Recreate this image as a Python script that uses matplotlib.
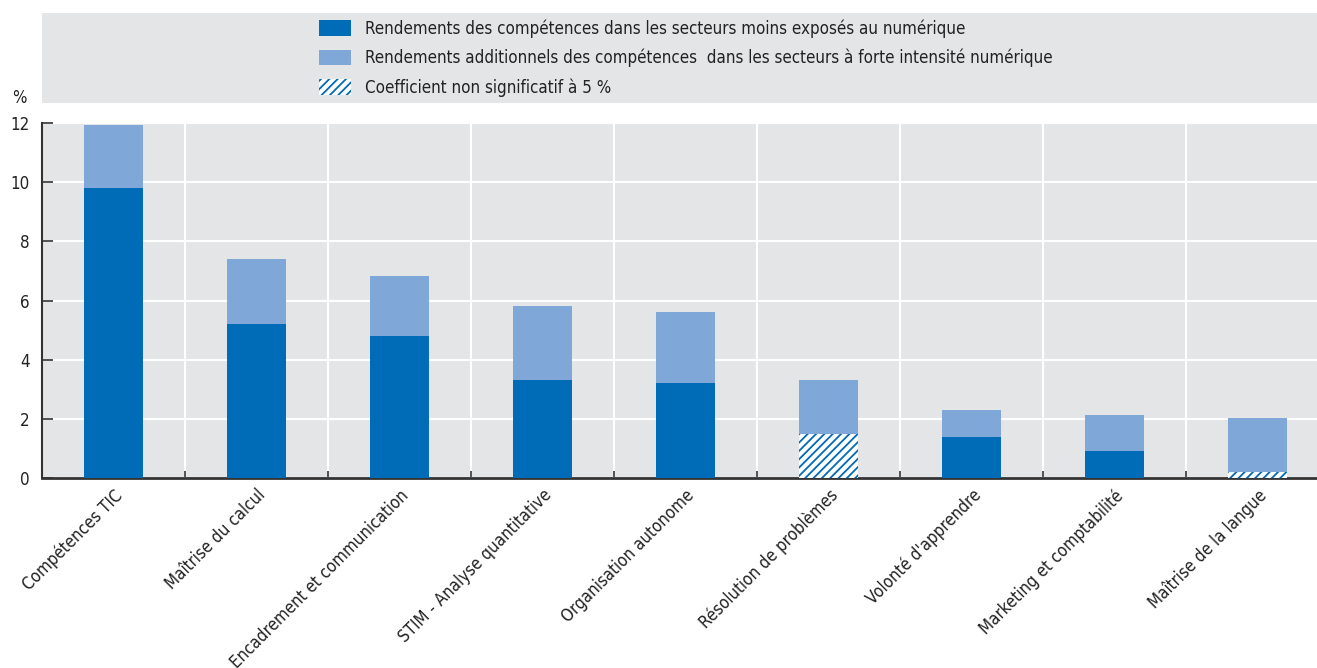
import matplotlib
matplotlib.use('Agg')
import matplotlib.pyplot as plt
from matplotlib.patches import Patch
import numpy as np

plt.rcParams['font.family'] = ['DejaVu Sans']
plt.rcParams['font.stretch'] = 'condensed'
plt.rcParams['hatch.linewidth'] = 1.3

# Données : rendements des compétences (%)
categories = ['Compétences TIC', 'Maîtrise du calcul', 'Encadrement et communication',
              'STIM - Analyse quantitative', 'Organisation autonome', 'Résolution de problèmes',
              "Volonté d'apprendre", 'Marketing et comptabilité', 'Maîtrise de la langue']
base = [9.8, 5.2, 4.8, 3.3, 3.2, 1.5, 1.4, 0.9, 0.2]
additionnel = [2.13, 2.2, 2.03, 2.5, 2.4, 1.8, 0.9, 1.23, 1.83]
base_non_signif = [False, False, False, False, False, True, False, False, True]

legende = ['Rendements des compétences dans les secteurs moins exposés au numérique',
           'Rendements additionnels des compétences  dans les secteurs à forte intensité numérique',
           'Coefficient non significatif à 5 %']

bleu_fonce = '#006bb6'
bleu_clair = '#7fa7d8'
gris = '#e4e5e7'
texte = '#222222'
taille = 12.2

W, H = 1317, 668
fig = plt.figure(figsize=(W / 100, H / 100), dpi=100)

# Axe principal
ax = fig.add_axes([42 / W, 1 - 478 / H, 1 - 42 / W, 355 / H])
ax.set_facecolor(gris)
x = np.arange(len(categories))
largeur = 0.41

for i in x:
    if base_non_signif[i]:
        ax.bar(i, base[i], largeur, color='white', edgecolor=bleu_fonce, hatch='////',
               linewidth=0, zorder=3)
    else:
        ax.bar(i, base[i], largeur, color=bleu_fonce, linewidth=0, zorder=3)
ax.bar(x, additionnel, largeur, bottom=base, color=bleu_clair, linewidth=0, zorder=3)

ax.set_ylim(0, 12)
ax.set_xlim(-0.5, 8.5 - 12 / 143)
ax.set_yticks(range(0, 13, 2))
ax.set_xticks(x)
ax.set_xticklabels(categories, rotation=45, ha='right', rotation_mode='anchor', fontsize=taille,
                   color=texte)
ax.set_xticks(np.arange(0.5, 8.5, 1), minor=True)
ax.tick_params(axis='x', which='major', length=0, pad=6)
ax.tick_params(axis='x', which='minor', direction='in', length=5, width=1.2, color='#333333')
ax.tick_params(axis='y', direction='in', length=8, width=1.2, color='#333333', labelsize=taille,
               labelcolor=texte, pad=9)

ax.grid(axis='y', color='white', linewidth=1.5, zorder=0)
ax.grid(axis='x', which='minor', color='white', linewidth=1.5, zorder=0)
ax.set_axisbelow(True)
for s in ['top', 'right']:
    ax.spines[s].set_visible(False)
ax.spines['left'].set_linewidth(1.5)
ax.spines['left'].set_color('#333333')
ax.spines['bottom'].set_linewidth(2)
ax.spines['bottom'].set_color('#333333')

fig.text(19 / W, 1 - 98 / H, '%', fontsize=taille, ha='center', va='center', color=texte)

# Bandeau de légende
ax_leg = fig.add_axes([42 / W, 1 - 103 / H, 1 - 42 / W, 90 / H])
ax_leg.set_facecolor(gris)
ax_leg.set_xticks([])
ax_leg.set_yticks([])
for s in ax_leg.spines.values():
    s.set_visible(False)

poignees = [Patch(facecolor=bleu_fonce, linewidth=0),
            Patch(facecolor=bleu_clair, linewidth=0),
            Patch(facecolor='white', edgecolor=bleu_fonce, hatch='////', linewidth=0)]
ax_leg.legend(poignees, legende, loc='center left', bbox_to_anchor=((318 - 42) / (W - 42) - 0.0115, 0.5),
              frameon=False, fontsize=taille, handlelength=1.9, handleheight=1.0,
              handletextpad=0.85, labelspacing=0.65, labelcolor=texte)

fig.savefig('out.png', dpi=100)
